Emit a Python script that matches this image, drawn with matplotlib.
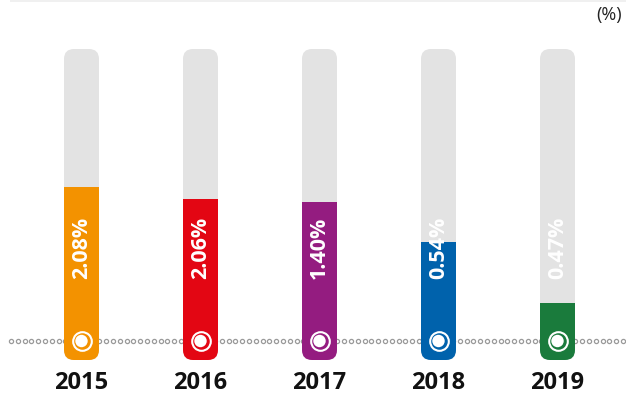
import matplotlib
matplotlib.use("Agg")
import matplotlib.pyplot as plt
from matplotlib.patches import FancyBboxPatch
import numpy as np

# ---- data ----
years = ["2015", "2016", "2017", "2018", "2019"]
values = [2.08, 2.06, 1.40, 0.54, 0.47]
# fill level of each gauge tube as drawn (fraction of tube height)
fill_levels = [0.556, 0.518, 0.508, 0.379, 0.183]
colors = ["#F39200", "#E30613", "#941C80", "#0062AC", "#1A7B3C"]
unit_label = "(%)"

W, H, DPI = 626, 398, 100
plt.rcParams['font.family'] = ['Open Sans', 'DejaVu Sans']

fig = plt.figure(figsize=(W / DPI, H / DPI), dpi=DPI)
ax = fig.add_axes([0, 0, 1, 1])
ax.set_axis_off()

# layout (pixels -> data)
px_x = 119.0           # px per category
px_y = 311.0           # px per tube height
x0_px, y0_px = 81.5, 360.0
ax.set_xlim(-x0_px / px_x, (W - x0_px) / px_x)
ax.set_ylim(-(H - y0_px) / px_y, y0_px / px_y)

xs = np.arange(len(years))
bw = 35 / px_x
r = 10 / px_x
aspect = (1 / px_y) / (1 / px_x)

# top faint line
ax.plot([10 / px_x - x0_px / px_x, (W - x0_px) / px_x], [y0_px / px_y - 0.5 / px_y] * 2,
        color="#EEEEEE", lw=1.2, zorder=0, solid_capstyle="butt")

# dotted baseline
base_y = (y0_px - 341) / px_y
dots = np.arange(11, W, 6.8)
ax.plot((dots - x0_px) / px_x, np.full_like(dots, base_y), linestyle="none",
        marker="o", markersize=3.0, markerfacecolor="white",
        markeredgecolor="#9A9A9A", markeredgewidth=0.9, zorder=1)

for i, x in enumerate(xs):
    tube = FancyBboxPatch((x - bw / 2, 0), bw, 1.0,
                          boxstyle=f"round,pad=0,rounding_size={r}",
                          mutation_aspect=aspect, facecolor="#E3E3E3",
                          edgecolor="none", zorder=2)
    ax.add_patch(tube)
    bars = ax.bar(x, fill_levels[i], width=bw, bottom=0, color=colors[i], zorder=3)
    for b in bars:
        b.set_clip_path(tube)
    ax.scatter([x], [base_y], s=180, facecolor=colors[i], edgecolor="white",
               linewidths=1.5, zorder=4)
    ax.scatter([x], [base_y], s=80, facecolor="white", edgecolor="none", zorder=5)
    ax.text(x, (y0_px - 248) / px_y, f"{values[i]:.2f}%", rotation=90,
            ha="center", va="center", color="white", fontsize=15.5,
            fontweight="bold", zorder=6)
    ax.text(x, -(383 - y0_px) / px_y, years[i], ha="center", va="center",
            color="#111111", fontsize=17, fontweight="bold", zorder=6)

ax.text((622 - x0_px) / px_x, (y0_px - 15) / px_y, unit_label, ha="right",
        va="center", fontsize=13, color="#222222")

fig.savefig("out.png", dpi=DPI)
